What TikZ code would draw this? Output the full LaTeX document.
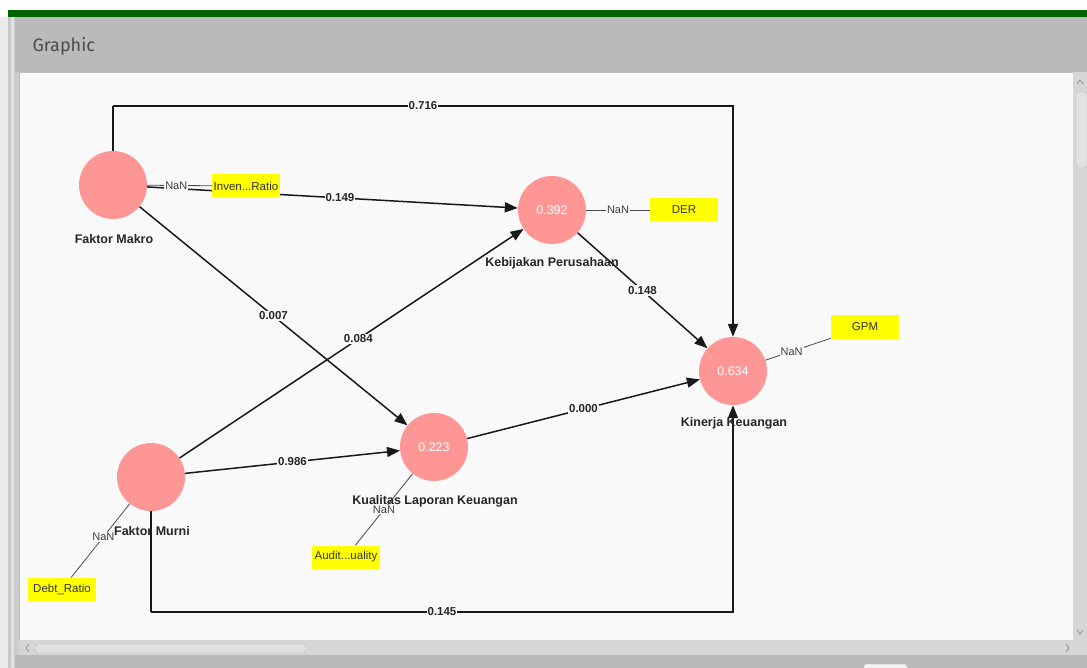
\documentclass[tikz,border=0pt]{standalone}
\usepackage{fontspec}
\setmainfont{Liberation Sans}
\newfontfamily\hdrfont{Fira Sans}
\usetikzlibrary{arrows.meta}
\definecolor{green1}{RGB}{0,100,0}
\definecolor{hdrgray}{RGB}{186,186,186}
\definecolor{canvas}{RGB}{249,249,249}
\definecolor{lvcol}{RGB}{255,150,150}
\definecolor{ind}{RGB}{255,255,0}
\definecolor{sbgray}{RGB}{214,214,214}
\definecolor{thumb}{RGB}{225,225,225}
\tikzset{
  lv/.style={circle,fill=lvcol,minimum size=68pt,inner sep=0pt,text=white,font=\fontsize{12.5}{13}\selectfont},
  lvlab/.style={font=\bfseries\fontsize{12.5}{13}\selectfont,text=black!85},
  indbox/.style={rectangle,fill=ind,minimum width=68pt,minimum height=23pt,inner sep=0pt,font=\fontsize{11.5}{12}\selectfont,text=black!80},
  path/.style={draw=black!90,line width=1.5pt,-{Triangle[length=13pt,width=10pt]}},
  plain/.style={draw=black!90,line width=1.5pt},
  elab/.style={fill=canvas,inner sep=1pt,font=\bfseries\fontsize{11.5}{12}\selectfont,text=black!85},
  meas/.style={draw=black!70,line width=0.8pt},
  nan/.style={fill=canvas,inner sep=1pt,font=\fontsize{11}{12}\selectfont,text=black!75},
  chev/.style={draw=black!45,line width=0.7pt}
}
\begin{document}
\begin{tikzpicture}[x=1pt,y=-1pt]
\useasboundingbox (0,0) rectangle (1087,668);
% window chrome
\fill[white] (0,0) rectangle (1087,668);
\fill[black!8] (0,17) rectangle (8,668);
\fill[black!22] (8,17) rectangle (11,668);
\fill[black!12] (11,17) rectangle (14,668);
\fill[black!20] (14,17) rectangle (19,668);
\fill[green1] (8,10) rectangle (1087,17);
\fill[hdrgray] (15,17) rectangle (1087,72);
\node[anchor=west,font=\hdrfont\fontsize{18}{20}\selectfont,text=black!70] (title) at (29,46) {Graphic};
\fill[canvas] (19,72) rectangle (1073,640);
\draw[black!25] (19,72) rectangle (1073,640);
% vertical scrollbar
\fill[sbgray] (1073,72) rectangle (1087,655);
\fill[thumb,draw=black!30,rounded corners=2pt] (1076,92) rectangle (1087,168);
\draw[chev] (1077,84) -- (1080,80) -- (1083,84);
\draw[chev] (1077,630) -- (1080,634) -- (1083,630);
% horizontal scrollbar
\fill[sbgray] (19,640) rectangle (1073,655);
\fill[thumb,draw=black!30,rounded corners=3pt] (35,644) rectangle (306,653);
\draw[chev] (29,644) -- (26,648) -- (29,652);
\draw[chev] (1066,644) -- (1069,648) -- (1066,652);
\fill[hdrgray] (15,655) rectangle (1087,668);
\fill[black!5,draw=black!30,rounded corners=2pt] (864,664) rectangle (907,670);

% latent variables
\node[lv] (makro) at (113,185) {};
\node[lv] (kebij) at (552,210) {0.392};
\node[lv] (kiner) at (733,371) {0.634};
\node[lv] (kuali) at (434,447) {0.223};
\node[lv] (murni) at (151,477) {};

% indicators
\node[indbox] (inven) at (246,186) {Inven...Ratio};
\node[indbox] (der) at (684,210) {DER};
\node[indbox] (gpm) at (865,327) {GPM};
\node[indbox] (debt) at (62,589) {Debt\_Ratio};
\node[indbox] (audit) at (346,557) {Audit...uality};

% corner coordinates
\coordinate (c1) at (113,106);
\coordinate (c2) at (733,106);
\coordinate (c3) at (151,612);
\coordinate (c4) at (733,612);

% measurement lines
\draw[meas] (makro) -- node[nan,pos=0.45] (n1) {NaN} (inven);
\draw[meas] (kebij) -- node[nan] (n2) {NaN} (der);
\draw[meas] (kiner) -- node[nan,pos=0.4] (n3) {NaN} (gpm);
\draw[meas] (murni) -- node[nan,pos=0.45] (n4) {NaN} (debt);
\draw[meas] (kuali) -- node[nan,pos=0.5] (n5) {NaN} (audit);

% structural paths
\draw[plain] (makro.north) -- (c1);
\draw[path] (c1) -- node[elab] (l1) {0.716} (c2) -- (kiner.north);
\draw[path] (makro) -- node[elab,pos=0.52] (l2) {0.149} (kebij);
\draw[path] (makro) -- node[elab,pos=0.5] (l3) {0.007} (kuali);
\draw[path] (murni) -- node[elab,pos=0.52] (l4) {0.084} (kebij);
\draw[path] (murni) -- node[elab,pos=0.5] (l5) {0.986} (kuali);
\draw[path] (kuali) -- node[elab,pos=0.5] (l6) {0.000} (kiner);
\draw[path] (kebij) -- node[elab,pos=0.5] (l7) {0.148} (kiner);
\draw[plain] (murni.south) -- (c3);
\draw[path] (c3) -- node[elab] (l8) {0.145} (c4) -- (kiner.south);

% redraw indicator and its label on top of the structural path
\node[indbox] at (inven) {Inven...Ratio};
\node[nan] at (n1) {NaN};

% LV labels
\node[lvlab] (tmakro) at (114,239) {Faktor Makro};
\node[lvlab] (tkebij) at (552,263) {Kebijakan Perusahaan};
\node[lvlab] (tkiner) at (734,423) {Kinerja Keuangan};
\node[lvlab] (tkuali) at (435,501) {Kualitas Laporan Keuangan};
\node[lvlab] (tmurni) at (152,531) {Faktor Murni};
\end{tikzpicture}
\end{document}
